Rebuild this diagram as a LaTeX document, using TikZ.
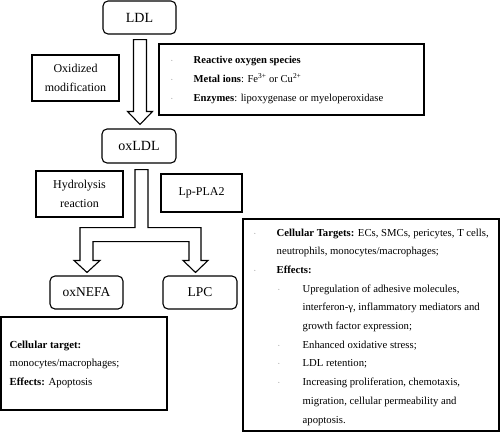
\documentclass[tikz,border=0pt]{standalone}
\usepackage{fontspec}
\setmainfont{Liberation Serif}
\usetikzlibrary{calc}
\newcommand{\mybul}{\textcolor{gray}{\footnotesize ·}}
\begin{document}
\begin{tikzpicture}[x=1pt,y=-1pt,
 box/.style={draw, line width=1.1pt, inner sep=0pt},
 rbox/.style={box, rounded corners=5pt, font=\fontsize{14}{16}\selectfont},
 lbl/.style={box, align=center, font=\fontsize{12}{19}\selectfont},
 txt/.style={inner sep=0pt, align=left, anchor=west, font=\fontsize{10.6}{18.6}\selectfont},
 blk/.style={draw, line width=1.1pt, fill=white, line join=miter}]
\useasboundingbox (0,0) rectangle (500,432);
\fill[white] (0,0) rectangle (500,432);

% main chain
\node[rbox, minimum width=73pt, minimum height=33pt] (ldl) at (139.5,17.5) {LDL};
\node[rbox, minimum width=74pt, minimum height=34pt] (oxldl) at (139,146) {oxLDL};
\node[rbox, minimum width=73pt, minimum height=33pt, font=\fontsize{13.5}{16}\selectfont] (oxnefa) at (86.5,292.5) {oxNEFA};
\node[rbox, minimum width=74pt, minimum height=33pt, font=\fontsize{13.5}{16}\selectfont] (lpc) at (200,292.5) {LPC};

% side labels
\node[lbl, minimum width=87pt, minimum height=46pt] (oxmod) at (75.5,78) {Oxidized\\modification};
\node[lbl, minimum width=87pt, minimum height=46pt] (hydro) at (79.5,194) {Hydrolysis\\reaction};
\node[lbl, minimum width=81pt, minimum height=38pt] (lppla) at (201.5,193) {Lp-PLA2};

% info boxes
\node[box, minimum width=265pt, minimum height=71pt] (react) at (291.5,79.5) {};
\node[txt] (reacttxt) at ($(react.west)+(12,0.5)$) {%
\makebox[23pt][l]{\mybul}\textbf{Reactive oxygen species}\\
\makebox[23pt][l]{\mybul}\textbf{Metal ions}: Fe\textsuperscript{3+} or Cu\textsuperscript{2+}\\
\makebox[23pt][l]{\mybul}\textbf{Enzymes}: lipoxygenase or myeloperoxidase};

\node[box, minimum width=166pt, minimum height=93pt] (cell) at (84,363.5) {};
\node[txt, font=\fontsize{10.8}{18.5}\selectfont] (celltxt) at ($(cell.west)+(9,0.5)$) {%
\textbf{Cellular target:}\\
monocytes/macrophages;\\
\textbf{Effects:} Apoptosis};

\node[box, minimum width=256pt, minimum height=212pt] (big) at (371,325) {};
\node[txt, font=\fontsize{10.7}{18.7}\selectfont] (bigtxt) at ($(big.west)+(11,2)$) {%
\makebox[23pt][l]{\mybul}\textbf{Cellular Targets:} ECs, SMCs, pericytes, T cells,\\
\hspace*{23pt}neutrophils, monocytes/macrophages;\\
\makebox[23pt][l]{\mybul}\textbf{Effects:}\\
\hspace*{24pt}\makebox[25pt][l]{\mybul}Upregulation of adhesive molecules,\\
\hspace*{49pt}interferon-γ, inflammatory mediators and\\
\hspace*{49pt}growth factor expression;\\
\hspace*{24pt}\makebox[25pt][l]{\mybul}Enhanced oxidative stress;\\
\hspace*{24pt}\makebox[25pt][l]{\mybul}LDL retention;\\
\hspace*{24pt}\makebox[25pt][l]{\mybul}Increasing proliferation, chemotaxis,\\
\hspace*{49pt}migration, cellular permeability and\\
\hspace*{49pt}apoptosis.};

% block arrow LDL -> oxLDL
\coordinate (a1s) at ($(ldl.south)+(0.5,5)$);
\coordinate (a1t) at ($(oxldl.north)+(1,-4)$);
\draw[blk] let \p1=(a1s), \p2=(a1t) in
  (\x1-6.5pt,\y1) -- (\x2-6.5pt,\y2+13pt) -- (\x2-12.5pt,\y2+13pt) -- (\x2,\y2)
  -- (\x2+12.5pt,\y2+13pt) -- (\x2+6.5pt,\y2+13pt) -- (\x1+6.5pt,\y1) -- cycle;

% forked block arrow oxLDL -> oxNEFA, LPC
\coordinate (fs) at ($(oxldl.south)+(2.5,6)$);
\coordinate (ft1) at ($(oxnefa.north)+(0.5,-3)$);
\coordinate (ft2) at ($(lpc.north)+(-4.5,-3)$);
\draw[blk] let \p1=(fs), \p2=(ft1), \p3=(ft2) in
  (\x1-6.5pt,\y1) -- (\x1-6.5pt,\y1-58pt) -- (\x2-7pt,\y1-58pt) -- (\x2-7pt,\y2+12pt)
  -- (\x2-13pt,\y2+12pt) -- (\x2,\y2) -- (\x2+13pt,\y2+12pt) -- (\x2+6pt,\y2+12pt)
  -- (\x2+6pt,\y1-72pt) -- (\x3-6.5pt,\y1-72pt) -- (\x3-6.5pt,\y3+12pt)
  -- (\x3-12.5pt,\y3+12pt) -- (\x3,\y3) -- (\x3+12.5pt,\y3+12pt) -- (\x3+5.5pt,\y3+12pt)
  -- (\x3+5.5pt,\y1-58pt) -- (\x1+6.5pt,\y1-58pt) -- (\x1+6.5pt,\y1) -- cycle;
\end{tikzpicture}
\end{document}
